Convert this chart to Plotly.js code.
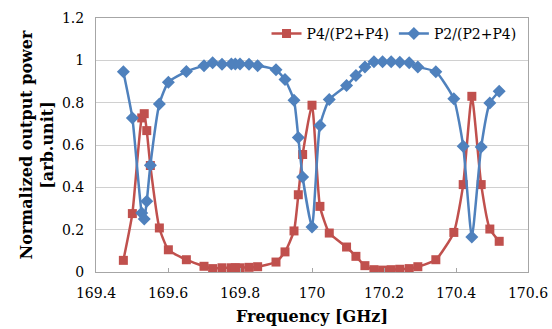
<!DOCTYPE html>
<html>
<head>
<meta charset="utf-8">
<script src="https://cdn.plot.ly/plotly-3.0.1.min.js"></script>
<style>html,body{margin:0;padding:0;background:#fff;}#chart{width:552px;height:329px;}</style>
</head>
<body>
<div id="chart"></div>
<script>
var freq = [169.476, 169.501, 169.527, 169.534, 169.541, 169.551, 169.576, 169.601, 169.651, 169.700, 169.724, 169.750, 169.776, 169.787, 169.800, 169.825, 169.849, 169.900, 169.925, 169.950, 169.962, 169.974, 170.000, 170.022, 170.048, 170.096, 170.122, 170.147, 170.172, 170.196, 170.220, 170.244, 170.270, 170.294, 170.344, 170.394, 170.420, 170.444, 170.470, 170.494, 170.520];
var p4 = [0.055, 0.276, 0.728, 0.748, 0.668, 0.503, 0.208, 0.105, 0.058, 0.027, 0.016, 0.020, 0.020, 0.020, 0.020, 0.022, 0.025, 0.047, 0.095, 0.194, 0.365, 0.555, 0.788, 0.310, 0.184, 0.118, 0.074, 0.030, 0.011, 0.009, 0.011, 0.013, 0.016, 0.025, 0.058, 0.187, 0.413, 0.830, 0.413, 0.203, 0.145];
var p2 = [0.946, 0.728, 0.279, 0.250, 0.334, 0.504, 0.794, 0.897, 0.947, 0.975, 0.988, 0.982, 0.983, 0.983, 0.983, 0.981, 0.975, 0.955, 0.909, 0.811, 0.635, 0.449, 0.213, 0.692, 0.815, 0.881, 0.928, 0.969, 0.993, 0.993, 0.993, 0.991, 0.988, 0.969, 0.946, 0.818, 0.594, 0.165, 0.591, 0.799, 0.854];
var names = ["P4/(P2+P4)", "P2/(P2+P4)"];
var xTicks = [169.4, 169.6, 169.8, 170, 170.2, 170.4, 170.6];
var yTicks = [0, 0.2, 0.4, 0.6, 0.8, 1, 1.2];

var serif = "'DejaVu Serif', 'Liberation Serif', serif";
var traces = [
  {x: freq, y: p4, name: names[0], type: "scatter", mode: "lines+markers",
   line: {color: "#C0504D", width: 2.5, shape: "spline", smoothing: 0.5},
   marker: {symbol: "square", size: 9, color: "#C0504D"}},
  {x: freq, y: p2, name: names[1], type: "scatter", mode: "lines+markers",
   line: {color: "#4F81BD", width: 2.5, shape: "spline", smoothing: 0.5},
   marker: {symbol: "diamond", size: 10, color: "#4F81BD"}}
];
var layout = {
  width: 552, height: 329,
  margin: {l: 96, r: 24, t: 18, b: 57},
  paper_bgcolor: "#fff", plot_bgcolor: "#fff",
  font: {family: serif, color: "#000", size: 14},
  showlegend: true,
  legend: {orientation: "h", x: 0.985, xanchor: "right", y: 1.0, yanchor: "top",
           bgcolor: "rgba(0,0,0,0)", font: {family: serif, size: 14}, tracegroupgap: 0},
  xaxis: {range: [169.4, 170.6], tickvals: xTicks, ticktext: xTicks.map(String),
          showgrid: false, zeroline: false, showline: true, linecolor: "#a6a6a6", mirror: true,
          ticks: "inside", ticklen: 4, tickcolor: "#a6a6a6", ticklabelstandoff: 8,
          title: {text: "<b>Frequency [GHz]</b>", font: {family: serif, size: 16}, standoff: 11}},
  yaxis: {range: [0, 1.2], tickvals: yTicks, ticktext: yTicks.map(String),
          showgrid: true, gridcolor: "#d0d0d0", gridwidth: 1, zeroline: false,
          showline: true, linecolor: "#a6a6a6", mirror: true, ticks: "", ticklabelstandoff: 8,
          title: {text: "<b>Normalized output power<br>[arb.unit]</b>", font: {family: serif, size: 16}, standoff: 4}}
};
Plotly.newPlot("chart", traces, layout, {displayModeBar: false, staticPlot: true});
</script>
</body>
</html>
